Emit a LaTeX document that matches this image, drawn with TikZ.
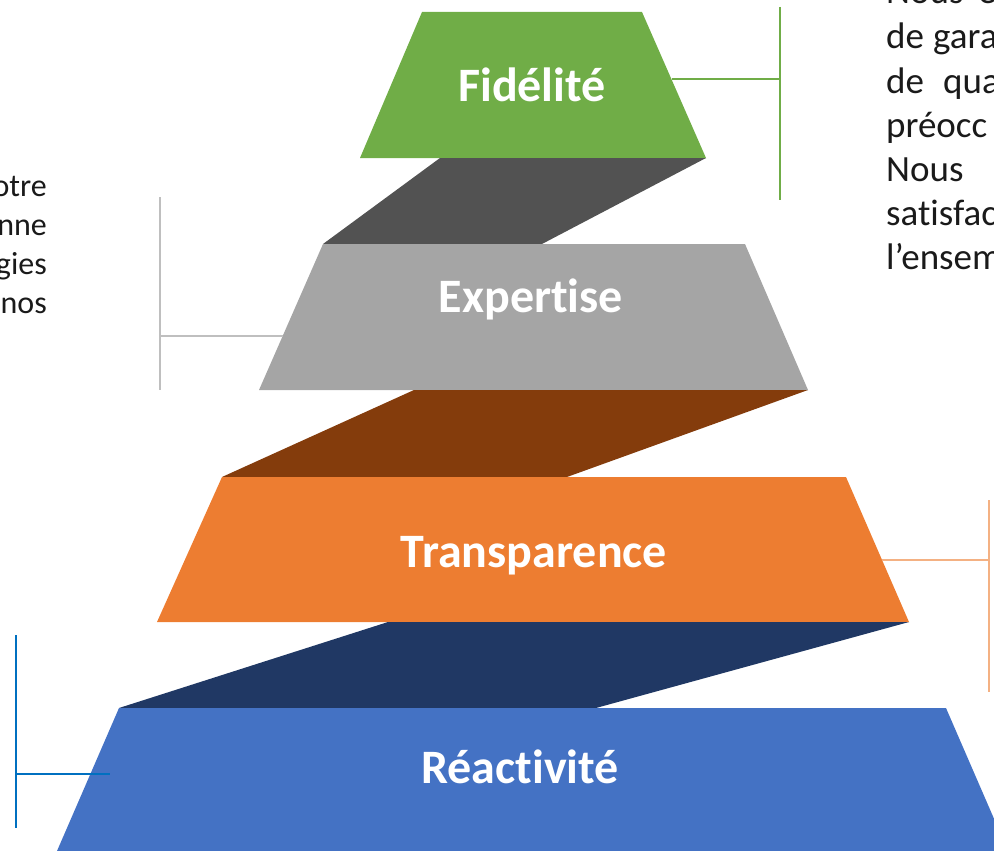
\documentclass[tikz,border=0pt]{standalone}
\usepackage{fontspec}
\setmainfont{Carlito}[RawFeature={-liga}]
\definecolor{cgreen}{HTML}{70AD47}
\definecolor{cdgray}{HTML}{525252}
\definecolor{cgray}{HTML}{A5A5A5}
\definecolor{cbrown}{HTML}{843C0C}
\definecolor{corange}{HTML}{ED7D31}
\definecolor{cnavy}{HTML}{203864}
\definecolor{cblue}{HTML}{4472C4}
\definecolor{lgray}{HTML}{BFBFBF}
\definecolor{lorange}{HTML}{F4B183}
\definecolor{lblue}{HTML}{0070C0}
\definecolor{ctext}{HTML}{1A1A1A}
\newcommand{\labfont}{\fontsize{48}{56}\selectfont\bfseries}
\newcommand{\rightfont}{\fontsize{37}{44}\selectfont}
\newcommand{\leftfont}{\fontsize{32}{39}\selectfont}
\tikzset{
  lab/.style={text=white, font=\labfont, inner sep=0pt, anchor=base},
  rtext/.style={text=ctext, font=\rightfont, inner sep=0pt, anchor=base west},
  sidetext/.style={text=ctext, font=\leftfont, inner sep=0pt, anchor=base east},
  bracket/.style={line width=2pt},
}
\begin{document}
\begin{tikzpicture}[x=1pt,y=-1pt]
\useasboundingbox (0,0) rectangle (994,851);
\clip (0,0) rectangle (994,851);
% layers
\fill[cgreen] (422,12) -- (642,12) -- (706,158) -- (360,158) -- cycle;
\fill[cdgray] (440,158) -- (706,158) -- (542,244) -- (323,244) -- cycle;
\fill[cgray] (323,244) -- (745,244) -- (808,390) -- (259,390) -- cycle;
\fill[cbrown] (414,390) -- (808,390) -- (567,477) -- (222,477) -- cycle;
\fill[corange] (222,477) -- (846,477) -- (909,622) -- (157,622) -- cycle;
\fill[cnavy] (388,622) -- (909,622) -- (596,708) -- (119,708) -- cycle;
\fill[cblue] (119,708) -- (946,708) -- (1008,851) -- (57,851) -- cycle;
% labels
\node[lab] (tf) at (532,102) {Fidélité};
\node[lab] (te) at (531,312) {Expertise};
\node[lab] (tt) at (534,567) {Transparence};
\node[lab] (tr) at (520,783) {Réactivité};
% brackets
\coordinate (g1) at (780,7);  \coordinate (g2) at (780,200);
\coordinate (g3) at (780,79); \coordinate (ge) at (672,79);
\draw[bracket, cgreen] (g1) -- (g2);
\draw[bracket, cgreen] (ge) -- (g3);
\coordinate (s1) at (160,197); \coordinate (s2) at (160,390);
\coordinate (s3) at (160,336); \coordinate (se) at (283,336);
\draw[bracket, lgray] (s1) -- (s2);
\draw[bracket, lgray] (s3) -- (se);
\coordinate (o1) at (989,500); \coordinate (o2) at (989,692);
\coordinate (o3) at (989,560); \coordinate (oe) at (882,560);
\draw[bracket, lorange] (o1) -- (o2);
\draw[bracket, lorange] (oe) -- (o3);
\coordinate (b1) at (16,635); \coordinate (b2) at (16,828);
\coordinate (b3) at (16,774); \coordinate (be) at (110,774);
\draw[bracket, lblue] (b1) -- (b2);
\draw[line width=2.5pt, lblue] (b3) -- (be);
% right text
\node[rtext] (r1a) at (886,4) {Nous};
\node[rtext] (r1b) at (978,4) {e};
\node[rtext] (r2a) at (886,49) {de};
\node[rtext] (r2b) at (933,49) {gara};
\node[rtext] (r3a) at (886,93) {de};
\node[rtext] (r3b) at (943,93) {qua};
\node[rtext] (r4) at (886,137) {préocc};
\node[rtext] (r5) at (886,181) {Nous};
\node[rtext] (r6) at (886,225) {satisfac};
\node[rtext] (r7) at (886,269) {l’ensem};
% left text
\node[sidetext] (l1) at (47,196) {otre};
\node[sidetext] (l2) at (47,235) {nne};
\node[sidetext] (l3) at (47,274) {gies};
\node[sidetext] (l4) at (47,313) {nos};
\end{tikzpicture}
\end{document}
